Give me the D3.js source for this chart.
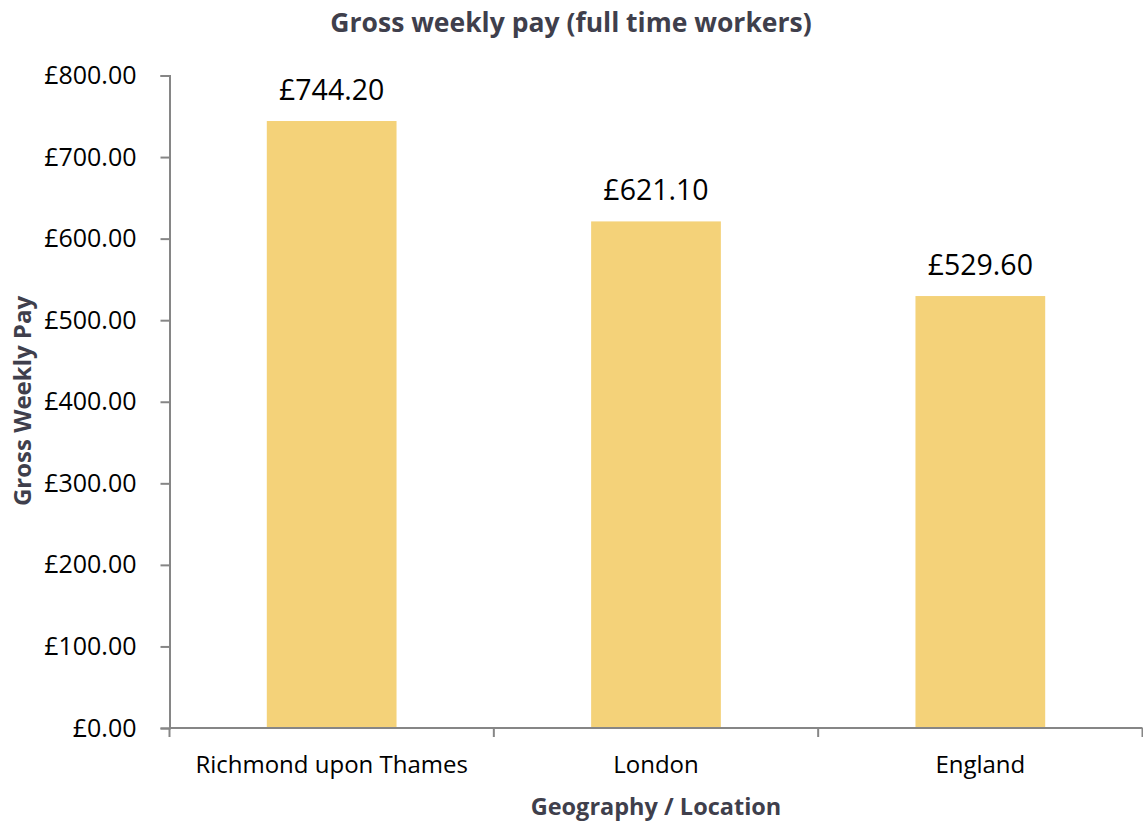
<!DOCTYPE html>
<html>
<head>
<meta charset="utf-8">
<script src="https://cdn.jsdelivr.net/npm/d3@7"></script>
<style>
  html, body { margin: 0; padding: 0; background: #fff; }
  svg { display: block; }
  text { font-family: "Open Sans", sans-serif; }
</style>
</head>
<body>
<svg id="chart" width="1143" height="825"></svg>
<script>
// Gross weekly pay, full time workers
const categories = ["Richmond upon Thames", "London", "England"];
const pay = [744.20, 621.10, 529.60];
const yTicks = [0, 100, 200, 300, 400, 500, 600, 700, 800];

const svg = d3.select("#chart");
const margin = { left: 169.5, right: 1142.5, top: 75.5, bottom: 728 };

const x = d3.scaleBand()
  .domain(categories)
  .range([margin.left, margin.right])
  .paddingInner(0)
  .paddingOuter(0);

const y = d3.scaleLinear()
  .domain([0, 800])
  .range([margin.bottom, margin.top]);

const axisColor = "#868686";
const titleColor = "#3f3f4c";
const barColor = "#f4d279";
const fmt = v => "£" + d3.format(",.2f")(v);

// Bars: 40% of each category band, centred
const barW = x.bandwidth() * 0.4;
svg.append("g").selectAll("rect")
  .data(pay)
  .join("rect")
  .attr("x", (d, i) => x(categories[i]) + (x.bandwidth() - barW) / 2)
  .attr("y", d => y(d))
  .attr("width", barW)
  .attr("height", d => y(0) - y(d))
  .attr("fill", barColor);

// Value labels
svg.append("g").selectAll("text")
  .data(pay)
  .join("text")
  .attr("x", (d, i) => x(categories[i]) + x.bandwidth() / 2)
  .attr("y", d => y(d) - 21)
  .attr("text-anchor", "middle")
  .attr("font-size", 28.5)
  .attr("fill", "#000")
  .text(d => fmt(d));

// Y axis
const yAxis = svg.append("g")
  .attr("transform", `translate(${margin.left},0)`)
  .call(d3.axisLeft(y).tickValues(yTicks).tickSize(9).tickPadding(24).tickFormat(fmt));
yAxis.select(".domain").attr("stroke", axisColor).attr("stroke-width", 2);
yAxis.selectAll(".tick line").attr("stroke", axisColor).attr("stroke-width", 2);
yAxis.selectAll(".tick text").attr("font-size", 25).attr("fill", "#000")
  .attr("font-family", "'Open Sans', sans-serif");

// X axis with ticks at category boundaries
const xAxis = svg.append("g")
  .attr("transform", `translate(0,${margin.bottom})`);
xAxis.append("line")
  .attr("x1", margin.left).attr("x2", margin.right)
  .attr("stroke", axisColor).attr("stroke-width", 2);
const bounds = categories.map(c => x(c) + x.bandwidth());
xAxis.selectAll("line.tk")
  .data([margin.left, ...bounds])
  .join("line")
  .attr("class", "tk")
  .attr("x1", d => d).attr("x2", d => d)
  .attr("y1", 0).attr("y2", 9)
  .attr("stroke", axisColor).attr("stroke-width", 2);
xAxis.selectAll("text")
  .data(categories)
  .join("text")
  .attr("x", d => x(d) + x.bandwidth() / 2)
  .attr("y", 45)
  .attr("text-anchor", "middle")
  .attr("font-size", 24)
  .attr("fill", "#000")
  .text(d => d);

// Titles
svg.append("text")
  .attr("x", 571).attr("y", 32)
  .attr("text-anchor", "middle")
  .attr("font-size", 26.5).attr("font-weight", "bold")
  .attr("fill", titleColor)
  .text("Gross weekly pay (full time workers)");

svg.append("text")
  .attr("x", 656).attr("y", 815)
  .attr("text-anchor", "middle")
  .attr("font-size", 23.5).attr("font-weight", "bold")
  .attr("fill", titleColor)
  .text("Geography / Location");

svg.append("text")
  .attr("transform", "translate(31,401) rotate(-90)")
  .attr("text-anchor", "middle")
  .attr("font-size", 24).attr("font-weight", "bold")
  .attr("fill", titleColor)
  .text("Gross Weekly Pay");
</script>
</body>
</html>
